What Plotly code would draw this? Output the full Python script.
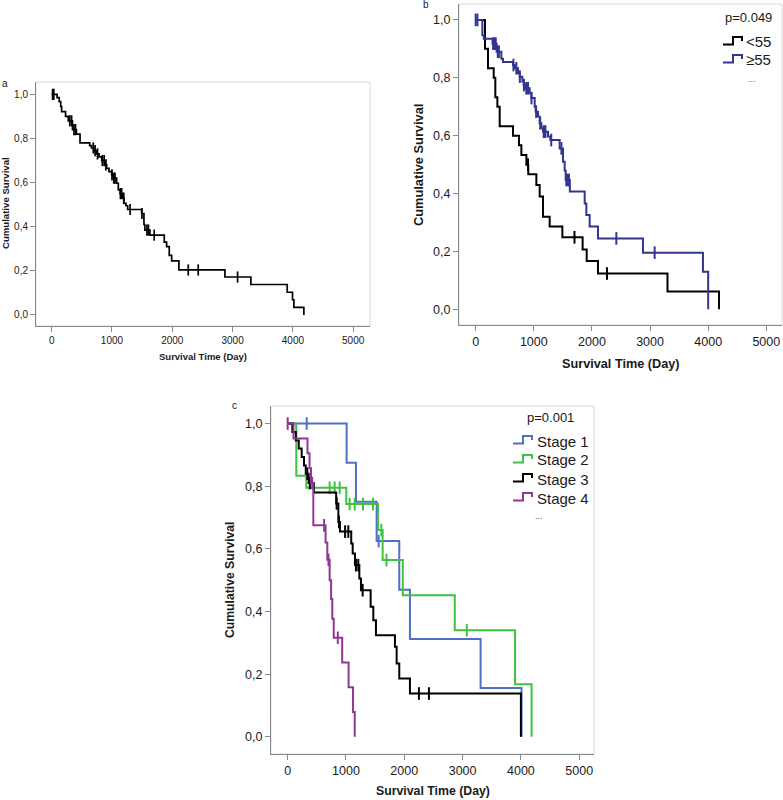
import plotly.graph_objects as go

W, H = 783, 800

# ---------------- data ----------------
# Panel a: all patients
a_times = [0, 90, 125, 150, 165, 230, 275, 345, 410, 470, 630, 660, 700, 745, 785, 830, 885, 912, 950, 995,
           1022, 1077, 1105, 1135, 1177, 1200, 1232, 1260, 1492, 1530, 1545, 1630, 1867, 1906, 1950, 1990,
           2110, 2873, 3303, 3906, 3994, 4017, 4182]
a_surv = [1.0, 0.985, 0.967, 0.945, 0.922, 0.90, 0.88, 0.84, 0.82, 0.78, 0.768, 0.757, 0.745, 0.73, 0.717,
          0.70, 0.68, 0.665, 0.65, 0.635, 0.62, 0.597, 0.567, 0.55, 0.53, 0.506, 0.495, 0.478, 0.46, 0.41,
          0.385, 0.362, 0.33, 0.31, 0.27, 0.245, 0.204, 0.172, 0.138, 0.103, 0.069, 0.034, 0.0]
a_cens = [15, 35, 300, 330, 370, 395, 690, 720, 760, 840, 870, 900, 1000, 1030, 1050, 1140, 1160, 1195,
          1300, 1497, 1580, 1605, 1700, 2265, 2430, 3083]

# Panel b: age groups
b_lt55_times = [0, 160, 212, 310, 338, 373, 413, 642, 745, 786, 872, 905, 1044, 1101, 1158, 1273, 1491,
                1840, 1910, 2104, 3300, 4186]
b_lt55_surv = [1.0, 0.90, 0.833, 0.80, 0.733, 0.70, 0.633, 0.60, 0.567, 0.533, 0.50, 0.467, 0.43, 0.39,
               0.32, 0.286, 0.249, 0.207, 0.167, 0.124, 0.062, 0.0]
b_lt55_cens = [900, 1700, 2259]

b_ge55_times = [0, 115, 140, 290, 360, 442, 470, 642, 671, 728, 757, 803, 826, 854, 929, 958, 1015, 1032,
                1072, 1101, 1130, 1158, 1244, 1284, 1445, 1502, 1531, 1548, 1620, 1875, 1904, 1961, 2104,
                2878, 3910, 4000]
b_ge55_surv = [1.0, 0.947, 0.935, 0.918, 0.89, 0.866, 0.855, 0.844, 0.833, 0.816, 0.804, 0.787, 0.775,
               0.764, 0.747, 0.73, 0.70, 0.683, 0.666, 0.643, 0.626, 0.614, 0.597, 0.585, 0.556, 0.51, 0.48,
               0.447, 0.407, 0.366, 0.326, 0.286, 0.245, 0.196, 0.13, 0.0]
b_ge55_cens = [0, 30, 300, 320, 345, 380, 400, 650, 700, 760, 830, 870, 900, 960, 1040, 1110, 1170, 1185,
               1200, 1300, 1475, 1560, 1585, 1605, 2420, 3079]

# Panel c: stages
c_s1_times = [0, 1011, 1171, 1526, 1914, 2097, 3309, 4011]
c_s1_surv = [1.0, 0.875, 0.75, 0.625, 0.469, 0.3125, 0.156, 0.0]
c_s1_cens = [326, 1560]

c_s2_times = [0, 148, 320, 1005, 1549, 1629, 1975, 2866, 3900, 4183]
c_s2_surv = [1.0, 0.833, 0.795, 0.743, 0.66, 0.564, 0.452, 0.34, 0.168, 0.0]
c_s2_cens = [720, 806, 892, 1063, 1150, 1292, 1463, 1606, 1695, 3072]

c_s3_times = [0, 80, 140, 190, 240, 280, 310, 360, 450, 832, 869, 897, 1090, 1115, 1154, 1229, 1257,
              1423, 1469, 1514, 1840, 1869, 1914, 2097, 4000]
c_s3_surv = [1.0, 0.973, 0.946, 0.92, 0.893, 0.866, 0.84, 0.81, 0.78, 0.745, 0.686, 0.655, 0.617, 0.585,
             0.548, 0.505, 0.468, 0.415, 0.372, 0.324, 0.287, 0.234, 0.186, 0.138, 0.0]
c_s3_cens = [337, 380, 840, 880, 985, 1040, 1171, 1211, 1286, 2251, 2423]

c_s4_times = [0, 100, 340, 375, 400, 440, 650, 680, 720, 745, 765, 790, 935, 1045, 1120, 1150]
c_s4_surv = [1.0, 0.952, 0.905, 0.857, 0.81, 0.675, 0.62, 0.565, 0.50, 0.44, 0.377, 0.316, 0.237, 0.158,
             0.079, 0.0]
c_s4_cens = [0, 420, 625, 700, 860]

x_ticks = [0, 1000, 2000, 3000, 4000, 5000]
y_ticks = [0.0, 0.2, 0.4, 0.6, 0.8, 1.0]
y_ticktext = ["0,0", "0,2", "0,4", "0,6", "0,8", "1,0"]

b_labels = ["<55", "≥55"]
c_labels = ["Stage 1", "Stage 2", "Stage 3", "Stage 4"]

# ---------------- helpers ----------------
def surv_at(times, survs, t):
    s = survs[0]
    for ti, si in zip(times, survs):
        if ti <= t:
            s = si
    return s

fig = go.Figure()

def add_curve(times, survs, cens, color, xa, ya, lw=2.0, msize=9):
    fig.add_trace(go.Scatter(x=times, y=survs, mode="lines", line=dict(color=color, width=lw, shape="hv"),
                             xaxis=xa, yaxis=ya, hoverinfo="skip"))
    fig.add_trace(go.Scatter(x=cens, y=[surv_at(times, survs, c) for c in cens], mode="markers",
                             marker=dict(symbol="line-ns", size=msize, line=dict(color=color, width=lw)),
                             xaxis=xa, yaxis=ya, hoverinfo="skip"))

BLACK = "#000000"
NAVY = "#33358f"
BLUE = "#4f70c6"
GREEN = "#3fc23f"
PURPLE = "#8e3795"

add_curve(a_times, a_surv, a_cens, BLACK, "x", "y", lw=1.7, msize=8)
add_curve(b_lt55_times, b_lt55_surv, b_lt55_cens, BLACK, "x2", "y2")
add_curve(b_ge55_times, b_ge55_surv, b_ge55_cens, NAVY, "x2", "y2")
add_curve(c_s1_times, c_s1_surv, c_s1_cens, BLUE, "x3", "y3")
add_curve(c_s2_times, c_s2_surv, c_s2_cens, GREEN, "x3", "y3")
add_curve(c_s3_times, c_s3_surv, c_s3_cens, BLACK, "x3", "y3")
add_curve(c_s4_times, c_s4_surv, c_s4_cens, PURPLE, "x3", "y3")

FONT = "Arial, Liberation Sans, sans-serif"
TXT = "#1a1a1a"

def px(x):
    return x / W

def py(y):
    return 1 - y / H

def xaxis(dom, rng, fs):
    return dict(domain=[px(dom[0]), px(dom[1])], range=rng, tickvals=x_ticks, ticks="outside", ticklen=5,
                tickcolor="#888888", showline=True, linecolor="#888888", linewidth=1, showgrid=False,
                zeroline=False, tickfont=dict(family=FONT, size=fs, color=TXT))

def yaxis(dom, rng, fs):
    return dict(domain=[py(dom[1]), py(dom[0])], range=rng, tickvals=y_ticks, ticktext=y_ticktext,
                ticks="outside", ticklen=5, tickcolor="#888888", showline=True, linecolor="#888888",
                linewidth=1, showgrid=False, zeroline=False, tickfont=dict(family=FONT, size=fs, color=TXT))

fig.update_layout(
    width=W, height=H, margin=dict(l=0, r=0, t=0, b=0), showlegend=False,
    paper_bgcolor="white", plot_bgcolor="white",
    xaxis=dict(xaxis((36, 370), [-260, 5279], 10), anchor="y"),
    yaxis=dict(yaxis((82, 326), [-0.05, 1.056], 10), anchor="x"),
    xaxis2=dict(xaxis((459, 782), [-287, 5270], 12.5), anchor="y2"),
    yaxis2=dict(yaxis((4, 325), [-0.054, 1.055], 12.5), anchor="x2"),
    xaxis3=dict(xaxis((271, 594), [-286, 5254], 12.5), anchor="y3"),
    yaxis3=dict(yaxis((406, 754), [-0.055, 1.056], 12.5), anchor="x3"),
)

# light frames
shapes = []
for xr, yr in [("x domain", "y domain"), ("x2 domain", "y2 domain"), ("x3 domain", "y3 domain")]:
    shapes.append(dict(type="rect", xref=xr, yref=yr, x0=0, x1=1, y0=0, y1=1,
                       line=dict(color="#d8d8d8", width=1), layer="below"))

# legend step icons
def icon(x0, ymid, color):
    xa, xb, xc = x0, x0 + 10, x0 + 19
    ylo, yhi, ye = ymid + 3.5, ymid - 4, ymid
    path = "M {},{} L {},{} L {},{} L {},{} L {},{}".format(
        px(xa), py(ylo), px(xb), py(ylo), px(xb), py(yhi), px(xc), py(yhi), px(xc), py(ye))
    return dict(type="path", xref="paper", yref="paper", path=path, line=dict(color=color, width=2))

shapes.append(icon(723, 41, BLACK))
shapes.append(icon(723, 59, NAVY))
c_cols = [BLUE, GREEN, BLACK, PURPLE]
c_ys = [440, 459, 478, 497]
for col, yy in zip(c_cols, c_ys):
    shapes.append(icon(513, yy, col))
fig.update_layout(shapes=shapes)

ann = []
def text(x, y, s, size, bold=False, angle=0, xanchor="center", color=TXT):
    ann.append(dict(x=px(x), y=py(y), xref="paper", yref="paper", text=("<b>%s</b>" % s) if bold else s,
                    showarrow=False, xanchor=xanchor, yanchor="middle", textangle=angle,
                    font=dict(family=FONT, size=size, color=color)))

# panel labels
text(5, 83, "a", 10)
text(426, 5, "b", 10)
text(234, 406, "c", 10)

# axis titles
text(203, 356, "Survival Time (Day)", 9.5, bold=True)
text(6, 203, "Cumulative Survival", 9.6, bold=True, angle=-90)
text(621, 364, "Survival Time (Day)", 12.7, bold=True)
text(418, 165, "Cumulative Survival", 12.8, bold=True, angle=-90)
text(433, 791, "Survival Time (Day)", 12.3, bold=True)
text(230, 580, "Cumulative Survival", 12.2, bold=True, angle=-90)

# legend b
text(748, 18, "p=0.049", 13)
text(744, 42, b_labels[0], 15, xanchor="left")
text(744, 60, b_labels[1], 15, xanchor="left")
text(752, 79, "...", 9, color="#555555")

# legend c
text(550, 417, "p=0.001", 13)
for lab, yy in zip(c_labels, c_ys):
    text(535, yy + 1, lab, 15, xanchor="left")
text(539, 516, "...", 9, color="#555555")

fig.update_layout(annotations=ann)

fig.write_html("out.html", config={"displayModeBar": False},
               post_script="document.body.style.margin='0';document.body.style.overflow='hidden';")
